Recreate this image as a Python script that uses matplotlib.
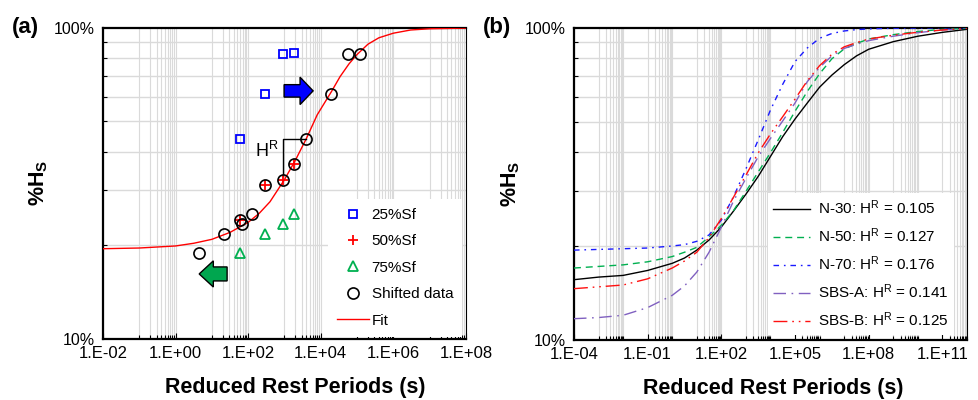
import numpy as np
import matplotlib
matplotlib.use('Agg')
import matplotlib.pyplot as plt
from matplotlib.patches import FancyArrow

plt.rcParams['font.family'] = ['Liberation Sans', 'DejaVu Sans']
plt.rcParams['mathtext.fontset'] = 'custom'
plt.rcParams['mathtext.rm'] = 'Liberation Sans'
plt.rcParams['mathtext.bf'] = 'Liberation Sans:bold'
plt.rcParams['mathtext.it'] = 'Liberation Sans:italic'

# ---- (a) measured data at 1, 5, 15, 30 min rest (s) ----
rest_time = [60, 300, 900, 1800]
hs_25 = [43.8, 61.2, 82.3, 82.8]
hs_50 = [24.2, 31.3, 32.4, 36.5]
hs_75 = [18.9, 21.7, 23.4, 25.3]

# shifted (reduced) data
shift_time = [4.4, 21.5, 60, 66, 130, 300, 900, 1800, 3840, 19500, 58000, 117000]
shift_hs = [18.9, 21.7, 24.2, 23.4, 25.3, 31.3, 32.4, 36.5, 43.8, 61.2, 82.5, 82.5]

# fitted master curve
fit_time = [1e-2, 1e-1, 1, 3.16, 10, 31.6, 100, 200, 400, 1000, 2000, 4000, 8000,
            2e4, 3.4e4, 6e4, 1e5, 2e5, 4e5, 1e6, 3e6, 1e7, 1e8]
fit_hs = [19.5, 19.6, 19.9, 20.3, 20.9, 22.0, 23.7, 25.3, 27.6, 32.5, 37.5, 44.0, 52.5,
          62.5, 69.6, 76.5, 82.0, 88.5, 92.8, 96.0, 98.3, 99.2, 99.7]

# ---- (b) master curves ----
curve_time = [1e-4, 1e-3, 1e-2, 1e-1, 1e0, 3.16e0, 1e1, 3.16e1, 1e2, 3.16e2, 1e3, 3.16e3,
              1e4, 3.16e4, 1e5, 3.16e5, 1e6, 3.16e6, 1e7, 3.16e7, 1e8, 1e9, 1e10, 1e11, 1e12]
hs_n30 = [15.6, 15.9, 16.1, 16.7, 17.6, 18.3, 19.4, 20.9, 23.0, 25.9, 29.3, 33.4,
          38.7, 44.8, 51.0, 57.4, 64.5, 70.5, 76.1, 81.2, 85.3, 90.2, 93.9, 96.6, 98.8]
hs_n50 = [17.0, 17.2, 17.4, 17.8, 18.5, 19.1, 19.8, 21.4, 23.3, 26.0, 29.9, 34.5,
          39.8, 46.2, 54.0, 62.5, 71.2, 79.5, 85.5, 89.0, 92.0, 95.0, 97.2, 98.8, 99.5]
hs_n70 = [19.4, 19.5, 19.6, 19.7, 20.0, 20.2, 20.7, 21.7, 24.2, 28.8, 35.3, 43.7,
          54.5, 65.9, 77.9, 86.1, 92.5, 95.8, 97.6, 98.6, 99.1, 99.6, 99.8, 99.9, 100.0]
hs_sbsa = [11.7, 11.8, 12.0, 12.7, 13.9, 14.9, 16.5, 19.1, 23.0, 27.9, 32.9, 38.6,
           44.2, 50.3, 57.4, 67.2, 74.6, 81.2, 85.8, 88.5, 90.9, 93.9, 96.4, 98.3, 99.5]
hs_sbsb = [14.6, 14.8, 15.0, 15.7, 17.0, 17.9, 19.1, 21.3, 24.5, 28.7, 33.7, 39.7,
           45.7, 51.9, 59.1, 67.6, 75.6, 82.2, 86.8, 89.6, 92.0, 94.6, 96.7, 98.3, 99.5]

curve_names = ['N-30', 'N-50', 'N-70', 'SBS-A', 'SBS-B']
curve_hr = [0.105, 0.127, 0.176, 0.141, 0.125]
curve_hs = [hs_n30, hs_n50, hs_n70, hs_sbsa, hs_sbsb]
curve_colors = ['black', '#00B050', '#1A1AFF', '#8060C0', '#FF1010']
curve_dashes = [None, (5, 3.5), (4, 3.5, 1.2, 3.5), (9, 4, 1.2, 4), (10, 3.5, 1.2, 3.5, 1.2, 3.5)]

xticks_a = [1e-2, 1e0, 1e2, 1e4, 1e6, 1e8]
xticklabels_a = ['1.E-02', '1.E+00', '1.E+02', '1.E+04', '1.E+06', '1.E+08']
xticks_b = [1e-4, 1e-1, 1e2, 1e5, 1e8, 1e11]
xticklabels_b = ['1.E-04', '1.E-01', '1.E+02', '1.E+05', '1.E+08', '1.E+11']

grid_col = '#DADADA'


def style_axes(ax, xlo, xhi, xticks, xticklabels):
    ax.set_xscale('log')
    ax.set_yscale('log')
    ax.set_xlim(10.0 ** xlo, 10.0 ** xhi)
    ax.set_ylim(10, 100)
    # excel-like minor grid: k*10^n only for odd decades
    minor = [k * 10.0 ** n for n in range(xlo, xhi) if n % 2 != 0 for k in range(1, 11)]
    ax.set_xticks(xticks)
    ax.set_xticklabels(xticklabels, fontsize=12)
    ax.set_xticks(minor, minor=True)
    ax.set_xticklabels([], minor=True)
    ax.set_yticks([10, 100])
    ax.set_yticklabels(['10%', '100%'], fontsize=11.5)
    ax.set_yticks(np.arange(20, 100, 10), minor=True)
    ax.set_yticklabels([], minor=True)
    ax.grid(True, which='both', axis='x', color=grid_col, lw=0.8, zorder=0)
    ax.grid(True, which='minor', axis='y', color=grid_col, lw=1.0, zorder=0)
    ax.set_axisbelow(True)
    ax.tick_params(which='both', direction='in', color='black', width=0.8)
    ax.tick_params(which='major', length=4, pad=5)
    ax.tick_params(which='minor', length=3)
    ax.tick_params(axis='y', which='major', length=0, pad=6)
    for s in ['left', 'bottom', 'top']:
        ax.spines[s].set_linewidth(1.6)
    ax.spines['right'].set_linewidth(0.8)
    ax.set_xlabel('Reduced Rest Periods (s)', fontsize=15.5, fontweight='bold')
    ax.set_ylabel(r'$\mathbf{\%H_S}$', fontsize=15.5)


fig = plt.figure(figsize=(9.79, 4.0), dpi=100)
ax1 = fig.add_axes([0.1052, 0.1525, 0.3707, 0.7783])
ax2 = fig.add_axes([0.5863, 0.15, 0.4014, 0.7808])

# ---------------- panel (a) ----------------
style_axes(ax1, -2, 8, xticks_a, xticklabels_a)
ax1.xaxis.set_label_coords(0.53, -0.123)
ax1.yaxis.set_label_coords(-0.146, 0.5)

l_fit, = ax1.plot(fit_time, fit_hs, color='red', lw=1.0, zorder=3)
l25, = ax1.plot(rest_time, hs_25, ls='none', marker='s', ms=6, mfc='none', mec='#0000FF', mew=1.3, zorder=4)
l50, = ax1.plot(rest_time, hs_50, ls='none', marker='+', ms=7, mec='red', mew=1.3, zorder=4)
l75, = ax1.plot(rest_time, hs_75, ls='none', marker='^', ms=7, mfc='none', mec='#00B050', mew=1.3, zorder=4)
lsh, = ax1.plot(shift_time, shift_hs, ls='none', marker='o', ms=8, mfc='none', mec='black', mew=1.2, zorder=5)

# H^R bracket between two shifted points
ax1.plot([shift_time[6], shift_time[6], shift_time[8]],
         [shift_hs[6] + 1.0, shift_hs[8], shift_hs[8]], color='black', lw=1.0, zorder=3)
ax1.text(0.452, 0.605, r'H$^{\mathrm{R}}$', transform=ax1.transAxes, fontsize=13,
         ha='center', va='center')

ax1.add_patch(FancyArrow(0.499, 0.797, 0.08, 0, width=0.04, head_width=0.088,
                         head_length=0.036, length_includes_head=True,
                         transform=ax1.transAxes, fc='#0000FF', ec='black', lw=1.0, zorder=6))
ax1.add_patch(FancyArrow(0.342, 0.209, -0.077, 0, width=0.045, head_width=0.084,
                         head_length=0.039, length_includes_head=True,
                         transform=ax1.transAxes, fc='#00A64F', ec='black', lw=1.0, zorder=6))

ax1.legend([l25, l50, l75, lsh, l_fit], ['25%Sf', '50%Sf', '75%Sf', 'Shifted data', 'Fit'],
           loc='upper left', bbox_to_anchor=(0.62, 0.45), borderaxespad=0,
           fontsize=11, frameon=True, fancybox=False, facecolor='white',
           edgecolor='none', framealpha=1, handlelength=2.1, handletextpad=0.15,
           labelspacing=0.81, borderpad=0.6)

# ---------------- panel (b) ----------------
style_axes(ax2, -4, 12, xticks_b, xticklabels_b)
ax2.xaxis.set_label_coords(0.508, -0.121)
ax2.yaxis.set_label_coords(-0.132, 0.5)

handles = []
for name, hr, hs, col, dsh in zip(curve_names, curve_hr, curve_hs, curve_colors, curve_dashes):
    label = f'{name}: H$^{{\\mathrm{{R}}}}$ = {hr:.3f}'
    ln, = ax2.plot(curve_time, hs, color=col, lw=1.0, label=label, zorder=3)
    if dsh is not None:
        ln.set_dashes(dsh)
    handles.append(ln)

ax2.legend(handles=handles, loc='upper left', bbox_to_anchor=(0.494, 0.47), borderaxespad=0,
           fontsize=11, frameon=True, fancybox=False, facecolor='white', edgecolor='none',
           framealpha=1, handlelength=2.4, handletextpad=0.5, labelspacing=0.62, borderpad=0.35)

fig.text(0.012, 0.932, '(a)', fontsize=16, fontweight='bold', va='center', ha='left')
fig.text(0.493, 0.932, '(b)', fontsize=16, fontweight='bold', va='center', ha='left')

fig.savefig('out.png', dpi=100)
